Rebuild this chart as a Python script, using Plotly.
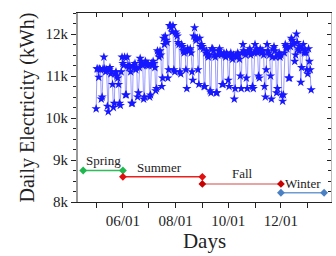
import pandas as pd
import plotly.graph_objects as go

# ---- data ----
start_date = "2017-05-01"
# daily electricity (kWh), one row per week starting on Sunday
daily_kwh = [
    10220, 11170, 11170, 10970, 11170, 11150, 10450,
    10500, 11170, 11450, 11170, 11100, 11150, 10280,
    10150, 11150, 11200, 11050, 11100, 10800, 10250,
    10350, 11050, 11100, 11000, 10950, 10800, 10350,
    10300, 11100, 11450, 11300, 11250, 11450, 10550,
    10550, 11450, 11250, 11200, 11250, 11100, 10350,
    10350, 11250, 11200, 11300, 11150, 11200, 10500,
    10600, 11200, 11420, 11350, 11300, 11250, 10450,
    10500, 11350, 11300, 11250, 11300, 11250, 10500,
    10550, 11300, 11250, 11350, 11300, 11200, 10650,
    10700, 11600, 11550, 11450, 11600, 11500, 10750,
    10950, 11900, 11750, 11950, 11850, 11800, 10950,
    11150, 12200, 12200, 12150, 12050, 12200, 11150,
    11100, 12050, 12000, 11950, 11800, 11750, 11100,
    11050, 11750, 11700, 11600, 11550, 11600, 11150,
    10700, 11650, 11600, 11600, 11650, 11550, 11100,
    10900, 11950, 12150, 11900, 11850, 11900, 11150,
    10800, 11900, 11700, 11750, 11700, 11650, 10750,
    10750, 11550, 11600, 11500, 11450, 11500, 10650,
    10600, 11650, 11650, 11600, 11500, 11450, 10600,
    10600, 11500, 11600, 11650, 11550, 11500, 10800,
    10800, 11550, 11500, 11450, 11550, 11500, 10900,
    10750, 11500, 11550, 11450, 11400, 11500, 10450,
    10700, 11500, 11450, 11550, 11500, 11400, 11000,
    10700, 11550, 11750, 11600, 11550, 11500, 10950,
    10700, 11600, 11550, 11650, 11500, 11550, 10750,
    10700, 11550, 11750, 11600, 11650, 11550, 11000,
    10950, 11650, 11600, 11550, 11600, 11500, 10750,
    10500, 11150, 11750, 11600, 11550, 11500, 11000,
    10450, 11450, 11650, 11700, 11600, 11450, 10600,
    10700, 11500, 11550, 11450, 11500, 10550, 10400,
    10550, 11550, 11750, 11700, 11650, 11700, 10950,
    10950, 11700, 11900, 11850, 11750, 11800, 11350,
    11500, 12000, 11800, 11650, 11600, 11700, 10850,
    11200, 11650, 11750, 11550, 11600, 11550, 11150,
    11050, 11650, 11350, 11150, 10670,
]

season_names = ["Spring", "Summer", "Fall", "Winter"]
season_start = ["2017-04-16", "2017-06-01", "2017-09-01", "2017-12-01"]
season_end = ["2017-06-01", "2017-09-01", "2017-12-01", "2018-01-20"]
season_level = [8750, 8600, 8430, 8220]
season_line_colors = ["#2ebd5a", "#e8211c", "#e08585", "#6f9bd0"]
season_marker_colors = ["#1fb84e", "#e01010", "#c80000", "#4a80c4"]
label_x = ["2017-05-09", "2017-07-13", "2017-10-17", "2017-12-27"]
label_y = [8980, 8810, 8690, 8450]

y_tick_vals = [8000, 9000, 10000, 11000, 12000]
y_tick_text = ["8k", "9k", "10k", "11k", "12k"]
x_tick_vals = ["2017-05-01", "2017-06-01", "2017-07-01", "2017-08-01", "2017-09-01",
               "2017-10-01", "2017-11-01", "2017-12-01", "2018-01-01"]
x_tick_text = ["", "06/01", "", "08/01", "", "10/01", "", "12/01", ""]

x_range = ["2017-04-10", "2018-01-28"]
y_range = [8000, 12500]

dates = pd.date_range(start_date, periods=len(daily_kwh), freq="D")

FONT = "Liberation Serif"

fig = go.Figure()

fig.add_trace(go.Scatter(
    x=dates, y=daily_kwh, mode="lines+markers",
    line=dict(color="rgba(90,90,255,0.6)", width=1),
    marker=dict(symbol="star", size=7, color="#1818ff", line=dict(width=0)),
    showlegend=False,
))

for i, name in enumerate(season_names):
    fig.add_trace(go.Scatter(
        x=[season_start[i], season_end[i]],
        y=[season_level[i], season_level[i]],
        mode="lines+markers",
        line=dict(color=season_line_colors[i], width=1.5),
        marker=dict(symbol="diamond", size=6, color=season_marker_colors[i]),
        showlegend=False,
    ))
    fig.add_annotation(x=label_x[i], y=label_y[i], text=name, showarrow=False,
                       font=dict(family=FONT, size=13, color="#222"))

# helper trace for mirrored (inside) ticks on top/right
fig.add_trace(go.Scatter(x=[dates[0]], y=[daily_kwh[0]], xaxis="x2", yaxis="y2",
                         mode="markers", marker=dict(opacity=0), showlegend=False,
                         hoverinfo="skip"))

fig.update_layout(
    width=336, height=256,
    margin=dict(l=78, r=5, t=13, b=54),
    paper_bgcolor="white", plot_bgcolor="white",
    font=dict(family=FONT, color="#222"),
    xaxis=dict(
        range=x_range, tickvals=x_tick_vals, ticktext=x_tick_text,
        ticks="outside", ticklen=5, tickcolor="#222",
        showline=True, linecolor="#222", linewidth=1,
        showgrid=False, zeroline=False, automargin=False,
        tickfont=dict(size=15, family=FONT),
        title=dict(text="Days", font=dict(size=21, family=FONT), standoff=0),
    ),
    yaxis=dict(
        range=y_range, tickvals=y_tick_vals, ticktext=y_tick_text,
        ticks="outside", ticklen=5, tickcolor="#222",
        minor=dict(dtick=250, tick0=8000, ticks="outside", ticklen=3, tickcolor="#222"),
        showline=True, linecolor="#999", linewidth=2,
        showgrid=False, zeroline=False, automargin=False,
        tickfont=dict(size=15, family=FONT),
        title=dict(text="Daily Electricity (kWh)", font=dict(size=20, family=FONT), standoff=6),
    ),
    xaxis2=dict(
        overlaying="x", side="top", range=x_range, tickvals=x_tick_vals,
        showticklabels=False, ticks="inside", ticklen=4, tickcolor="#222",
        showline=True, linecolor="#222", linewidth=1, showgrid=False, zeroline=False,
        automargin=False,
    ),
    yaxis2=dict(
        overlaying="y", side="right", range=y_range, tickvals=y_tick_vals,
        showticklabels=False, ticks="inside", ticklen=4, tickcolor="#222",
        minor=dict(dtick=250, tick0=8000, ticks="inside", ticklen=3, tickcolor="#222"),
        showline=True, linecolor="#bbb", linewidth=1, showgrid=False, zeroline=False,
        automargin=False,
    ),
)

fig.write_html(
    "out.html",
    config={"displayModeBar": False},
    post_script="document.body.style.margin='0';document.body.style.overflow='hidden';",
)
